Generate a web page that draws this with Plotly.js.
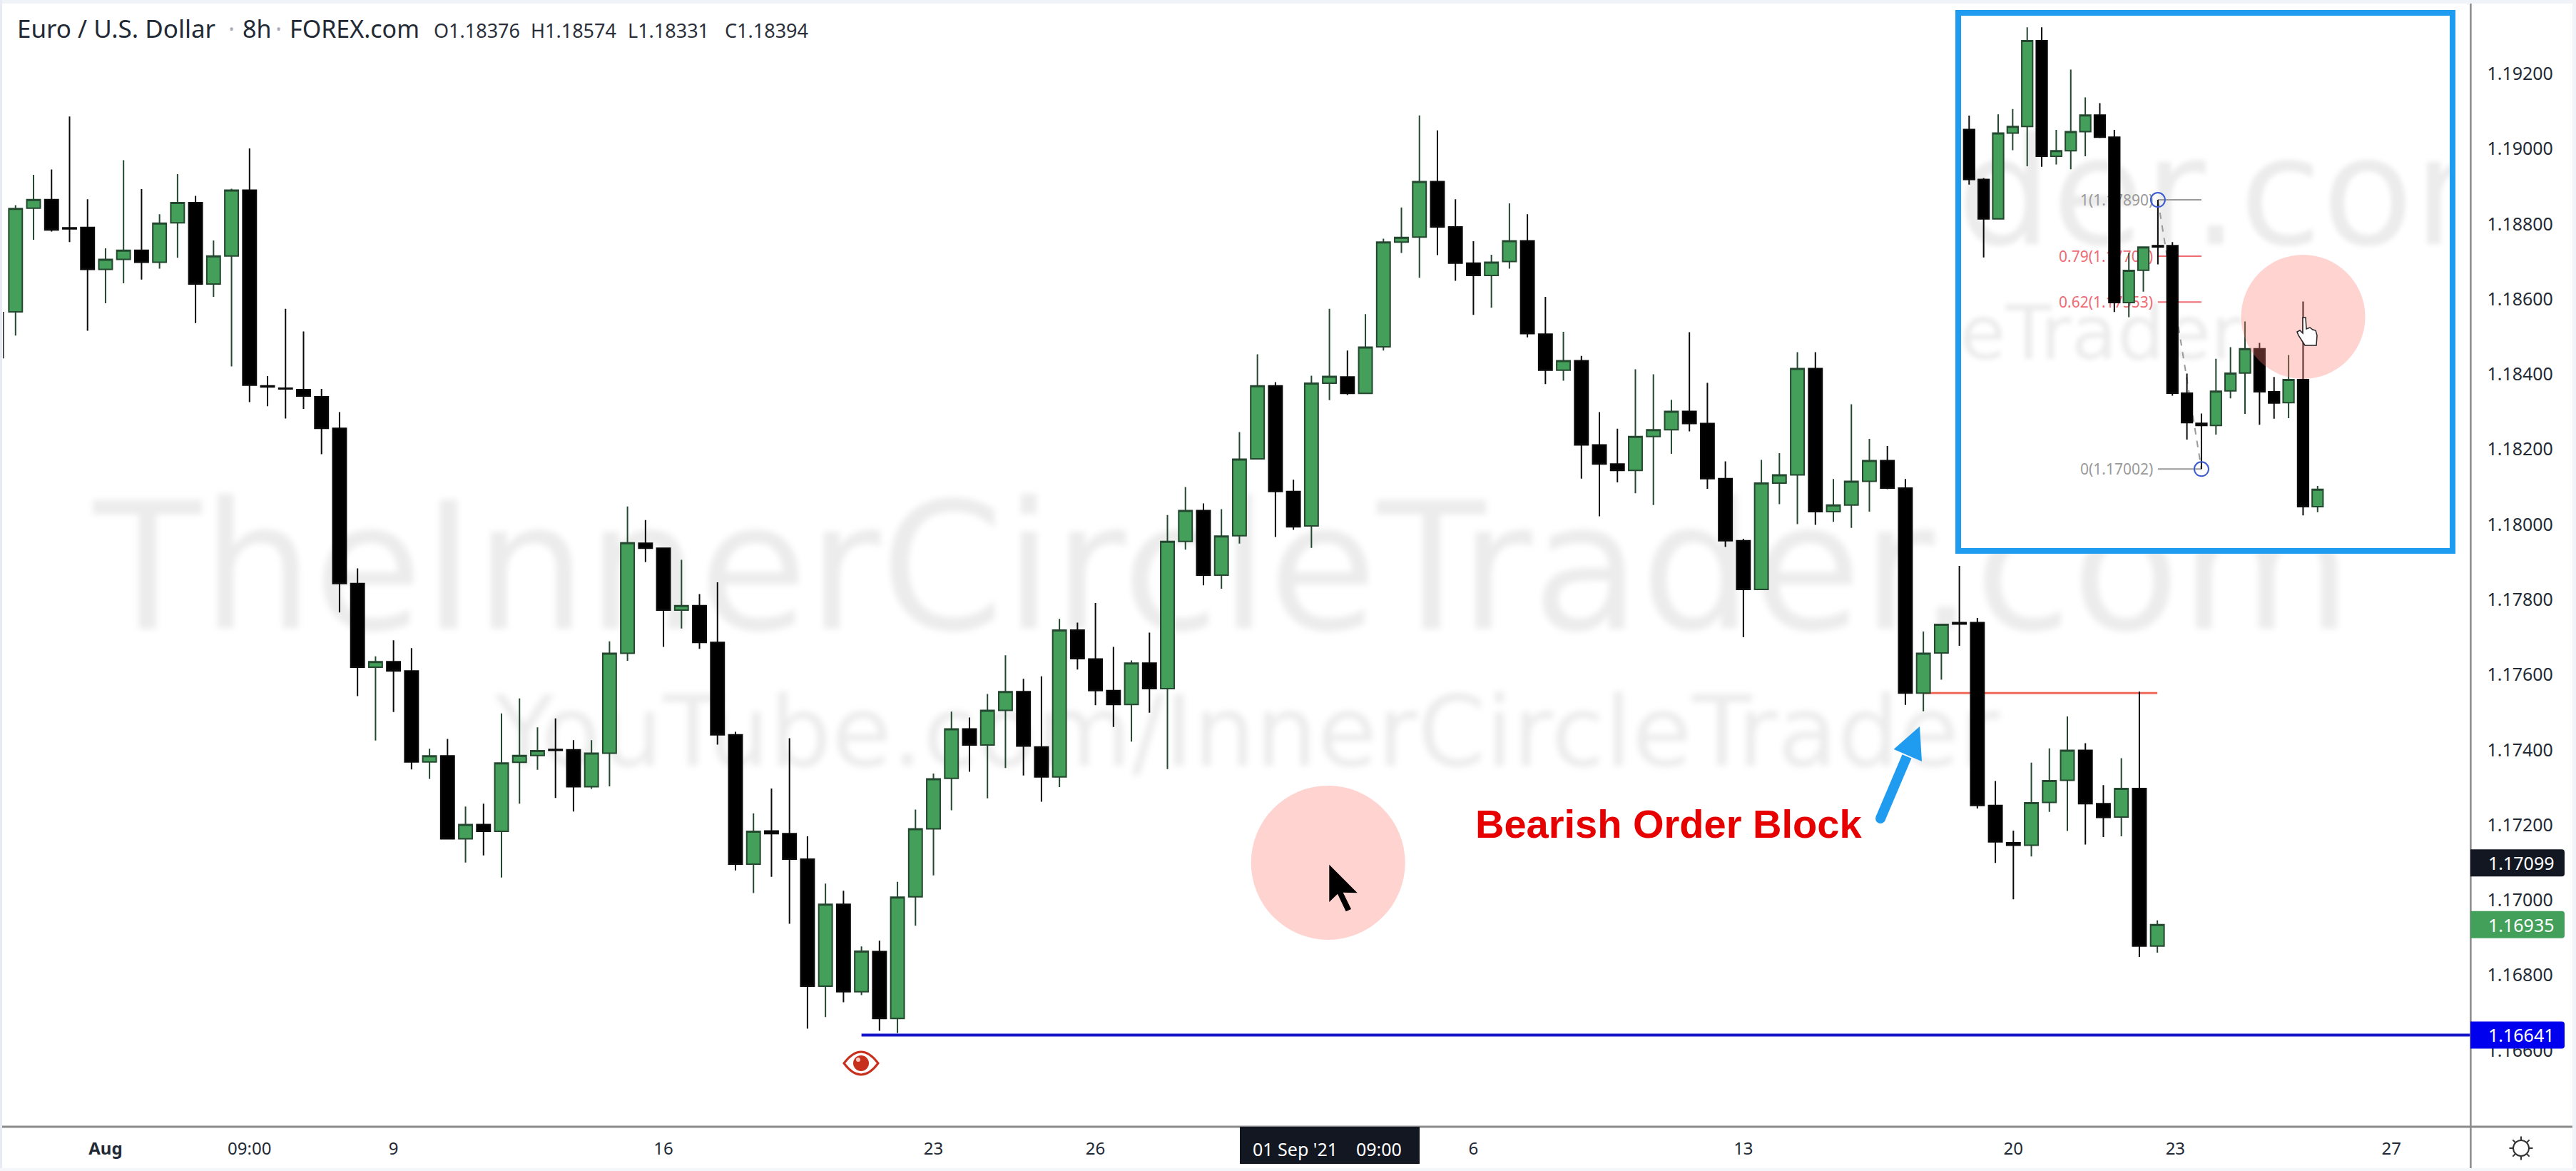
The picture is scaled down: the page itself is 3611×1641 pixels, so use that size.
<!DOCTYPE html>
<html>
<head>
<meta charset="utf-8">
<script src="https://cdn.plot.ly/plotly-3.0.1.min.js"></script>
<style>html,body{margin:0;padding:0;background:#fff;overflow:hidden}#chart{width:3611px;height:1641px}</style>
</head>
<body>
<div id="chart"></div>
<script>
const opens = [1.18566,1.18842,1.18865,1.18790,1.18791,1.18679,1.18706,1.18730,1.18698,1.18803,1.18857,1.18640,1.18715,1.18890,1.18369,1.18363,1.18359,1.18340,1.18256,1.17843,
1.17620,1.17635,1.17610,1.17368,1.17384,1.17163,1.17201,1.17183,1.17367,1.17385,1.17401,1.17400,1.17302,1.17391,1.17657,1.17950,1.17937,1.17772,1.17784,1.17686,
1.17440,1.17096,1.17184,1.17177,1.17109,1.16771,1.16989,1.16756,1.16863,1.16685,1.17009,1.17190,1.17324,1.17456,1.17413,1.17505,1.17555,1.17408,1.17328,1.17719,
1.17642,1.17558,1.17521,1.17631,1.17563,1.17955,1.18037,1.17865,1.17970,1.18175,1.18369,1.18088,1.17996,1.18376,1.18393,1.18349,1.18473,1.18752,1.18765,1.18913,
1.18792,1.18696,1.18663,1.18700,1.18755,1.18507,1.18411,1.18436,1.18212,1.18161,1.18144,1.18234,1.18252,1.18301,1.18269,1.18122,1.17957,1.17827,1.18110,1.18132,
1.18415,1.18034,1.18052,1.18115,1.18170,1.18097,1.17551,1.17658,1.17739,1.17739,1.17252,1.17153,1.17146,1.17260,1.17319,1.17399,1.17257,1.17221,1.17297,1.16878];
const highs = [1.18850,1.18931,1.18945,1.19086,1.18866,1.18735,1.18970,1.18893,1.18826,1.18933,1.18875,1.18756,1.18894,1.19001,1.18395,1.18574,1.18514,1.18361,1.18299,1.17883,
1.17649,1.17692,1.17671,1.17403,1.17429,1.17249,1.17257,1.17497,1.17537,1.17460,1.17484,1.17426,1.17426,1.17689,1.18048,1.18012,1.17937,1.17906,1.17815,1.17846,
1.17448,1.17231,1.17297,1.17431,1.17170,1.17044,1.17025,1.16877,1.16892,1.17049,1.17241,1.17337,1.17502,1.17486,1.17549,1.17652,1.17589,1.17596,1.17749,1.17739,
1.17791,1.17674,1.17638,1.17712,1.18025,1.18100,1.18056,1.18041,1.18246,1.18453,1.18379,1.18119,1.18396,1.18574,1.18463,1.18560,1.18761,1.18844,1.19089,1.19049,
1.18866,1.18754,1.18718,1.18855,1.18826,1.18606,1.18513,1.18449,1.18299,1.18255,1.18413,1.18400,1.18332,1.18512,1.18377,1.18168,1.17962,1.18172,1.18190,1.18459,
1.18459,1.18121,1.18320,1.18228,1.18209,1.18121,1.17715,1.17734,1.17890,1.17751,1.17317,1.17185,1.17366,1.17404,1.17489,1.17418,1.17306,1.17378,1.17555,1.16946];
const lows = [1.18503,1.18758,1.18780,1.18752,1.18516,1.18589,1.18642,1.18652,1.18681,1.18710,1.18536,1.18606,1.18421,1.18326,1.18315,1.18282,1.18308,1.18187,1.17766,1.17543,
1.17425,1.17501,1.17348,1.17323,1.17162,1.17100,1.17119,1.17060,1.17257,1.17347,1.17272,1.17236,1.17296,1.17303,1.17637,1.17900,1.17674,1.17723,1.17669,1.17414,
1.17079,1.17019,1.17062,1.16937,1.16658,1.16689,1.16728,1.16747,1.16652,1.16646,1.16932,1.17066,1.17239,1.17342,1.17271,1.17352,1.17332,1.17262,1.17301,1.17614,
1.17519,1.17461,1.17422,1.17499,1.17349,1.17933,1.17838,1.17829,1.17949,1.18175,1.17967,1.17986,1.17938,1.18331,1.18345,1.18349,1.18463,1.18723,1.18657,1.18717,
1.18649,1.18558,1.18577,1.18681,1.18498,1.18374,1.18383,1.18122,1.18022,1.18112,1.18083,1.18052,1.18188,1.18248,1.18095,1.17940,1.17700,1.17827,1.18054,1.18001,
1.17999,1.18007,1.17991,1.18034,1.18094,1.17520,1.17503,1.17587,1.17677,1.17244,1.17099,1.17002,1.17116,1.17235,1.17184,1.17148,1.17168,1.17170,1.16849,1.16860];
const closes = [1.18841,1.18865,1.18784,1.18787,1.18679,1.18706,1.18730,1.18698,1.18802,1.18857,1.18640,1.18715,1.18890,1.18371,1.18366,1.18361,1.18342,1.18256,1.17843,1.17620,
1.17635,1.17610,1.17368,1.17384,1.17163,1.17201,1.17183,1.17365,1.17385,1.17398,1.17399,1.17302,1.17391,1.17657,1.17951,1.17937,1.17772,1.17784,1.17686,1.17440,
1.17096,1.17183,1.17177,1.17109,1.16771,1.16989,1.16756,1.16864,1.16685,1.17008,1.17190,1.17323,1.17456,1.17413,1.17505,1.17555,1.17410,1.17328,1.17719,1.17643,
1.17558,1.17521,1.17631,1.17563,1.17955,1.18037,1.17865,1.17969,1.18174,1.18369,1.18088,1.17994,1.18376,1.18394,1.18349,1.18472,1.18752,1.18764,1.18913,1.18792,
1.18696,1.18663,1.18698,1.18755,1.18508,1.18411,1.18436,1.18212,1.18161,1.18144,1.18234,1.18252,1.18301,1.18269,1.18122,1.17957,1.17827,1.18110,1.18132,1.18415,
1.18034,1.18052,1.18115,1.18170,1.18097,1.17551,1.17657,1.17734,1.17735,1.17252,1.17155,1.17146,1.17259,1.17318,1.17399,1.17257,1.17220,1.17297,1.16878,1.16935];

const xTickIndex = [5,13,21,36,51,60,81,96,111,120,132];
const xTickLabels = ['<b>Aug</b>','09:00','9','16','23','26','6','13','20','23','27'];
const priceTicks = [1.166,1.168,1.170,1.172,1.174,1.176,1.178,1.180,1.182,1.184,1.186,1.188,1.190,1.192];
const priceTickLabels = ['1.16600','1.16800','1.17000','1.17200','1.17400','1.17600','1.17800','1.18000','1.18200','1.18400','1.18600','1.18800','1.19000','1.19200'];
const edgeWickY = [1.18566,1.18442];
const orderBlockPrice = 1.17551;
const sweepPrice = 1.16641;
const crosshairPrice = 1.17099;
const lastPrice = 1.16935;
const fibLevels = [{t:'1(1.17890)',p:1.17890,c:'#999999'},{t:'0.79(1.17704)',p:1.17704,c:'#ee6b73'},{t:'0.62(1.17553)',p:1.17553,c:'#ee6b73'},{t:'0(1.17002)',p:1.17002,c:'#999999'}];

const W = 3611, H = 1641;
const X = px => px / W;
const Y = py => 1 - py / H;
const poly = pts => 'M' + pts.map(p => X(p[0]) + ',' + Y(p[1])).join(' L') + ' Z';
const rectS = (x0,y0,x1,y1,fill,extra) => Object.assign({type:'rect',xref:'paper',yref:'paper',x0:X(x0),x1:X(x1),y0:Y(y0),y1:Y(y1),fillcolor:fill,line:{width:0}},extra||{});
const lineS = (x0,y0,x1,y1,color,w,extra) => Object.assign({type:'line',xref:'paper',yref:'paper',x0:X(x0),x1:X(x1),y0:Y(y0),y1:Y(y1),line:{color:color,width:w}},extra||{});
const circS = (cx,cy,r,fill,extra) => Object.assign({type:'circle',xref:'paper',yref:'paper',x0:X(cx-r),x1:X(cx+r),y0:Y(cy-r),y1:Y(cy+r),fillcolor:fill,line:{width:0}},extra||{});
const pathS = (d,fill,line,extra) => Object.assign({type:'path',xref:'paper',yref:'paper',path:d,fillcolor:fill,line:line||{width:0}},extra||{});
const labelS = (price,color) => ({type:'path',xref:'paper',yref:'y',xsizemode:'pixel',ysizemode:'pixel',xanchor:X(3463),yanchor:price,
  path:'M0,-19 H128 Q132,-19 132,-15 V15 Q132,19 128,19 H0 Z',fillcolor:color,line:{width:0},layer:'above'});

const index = opens.map((_,i)=>i);
const insetStart = 95;
const green = '#439f59', greenLine = '#24482f';
const candleStyle = {
  increasing:{fillcolor:green,line:{color:greenLine,width:2}},
  decreasing:{fillcolor:'#000000',line:{color:'#0a0a0a',width:2}},
  whiskerwidth:0, hoverinfo:'none', showlegend:false
};
const traces = [
  Object.assign({type:'candlestick',x:index,open:opens,high:highs,low:lows,close:closes,xaxis:'x',yaxis:'y'},candleStyle),
  {type:'scatter',mode:'lines',x:[-0.68,-0.68],y:edgeWickY,line:{color:'#333',width:2},xaxis:'x',yaxis:'y',showlegend:false,hoverinfo:'none'},
  Object.assign({type:'candlestick',x:index.slice(insetStart),open:opens.slice(insetStart),high:highs.slice(insetStart),low:lows.slice(insetStart),close:closes.slice(insetStart),xaxis:'x2',yaxis:'y2'},candleStyle),
  {type:'scatter',mode:'markers',x:[108,111],y:[1.17890,1.17002],xaxis:'x2',yaxis:'y2',showlegend:false,hoverinfo:'none',
   marker:{symbol:'circle-open',size:20,color:'#3a5bd0',line:{color:'#3a5bd0',width:2}}}
];

const wmColor = 'rgba(0,0,0,0.075)';
const ann = (text,px,py,size,color,o) => Object.assign({text:text,xref:'paper',yref:'paper',x:X(px),y:Y(py),xanchor:'left',yanchor:'middle',showarrow:false,font:{family:'Noto Sans',size:size,color:color}},o||{});
const dj = 'DejaVu Sans';
const annotations = [
  // 0,1 main watermark (moved under everything after drawing)
  ann('TheInnerCircleTrader.com',128,795,248,wmColor,{font:{family:dj,size:248,color:wmColor}}),
  ann('YouTube.com/InnerCircleTrader',690,1025,137,wmColor,{font:{family:dj,size:137,color:wmColor}}),
  // 2,3 inset watermark
  ann('der.com',2741,270,210,wmColor,{font:{family:dj,size:210,color:wmColor}}),
  ann('eTrader',2745,467,105,wmColor,{font:{family:dj,size:105,color:wmColor}}),
];
fibLevels.forEach(f=>annotations.push({text:f.t,xref:'x2',yref:'y2',x:107.75,y:f.p,xanchor:'right',yanchor:'middle',showarrow:false,font:{family:'Noto Sans',size:21,color:f.c}}));
const underCount = annotations.length;
annotations.push(
  ann('Euro / U.S. Dollar',22,40,35,'#222a35'),
  ann('·',318,40,34,'#aab'),
  ann('8h',338,40,34,'#222a35'),
  ann('·',384,40,34,'#aab'),
  ann('FOREX.com',404,40,34,'#222a35'),
  ann('O1.18376',606,42,27,'#2b2f3a'),
  ann('H1.18574',742,42,27,'#2b2f3a'),
  ann('L1.18331',878,42,27,'#2b2f3a'),
  ann('C1.18394',1014,42,27,'#2b2f3a'),
  ann('Bearish Order Block',2066,1154,56,'#e60000',{font:{family:'Liberation Sans',size:56,color:'#e60000',weight:700}}),
  ann("01 Sep '21",1754,1610,25,'#ffffff'),
  ann('09:00',1899,1610,25,'#ffffff'),
  {text:'1.17099',xref:'paper',yref:'y',x:X(3486),y:crosshairPrice,xanchor:'left',yanchor:'middle',showarrow:false,font:{family:'Noto Sans',size:25,color:'#fff'}},
  {text:'1.16935',xref:'paper',yref:'y',x:X(3486),y:lastPrice,xanchor:'left',yanchor:'middle',showarrow:false,font:{family:'Noto Sans',size:25,color:'#fff'}},
  {text:'1.16641',xref:'paper',yref:'y',x:X(3486),y:sweepPrice,xanchor:'left',yanchor:'middle',showarrow:false,font:{family:'Noto Sans',size:25,color:'#fff'}}
);

const sunRays = [];
for(let k=0;k<8;k++){const a=k*Math.PI/4;sunRays.push('M'+X(3534+11*Math.cos(a))+','+Y(1609+11*Math.sin(a))+' L'+X(3534+16.5*Math.cos(a))+','+Y(1609+16.5*Math.sin(a)));}

const sweepY = Y(735+(1.18-sweepPrice)*52640);
const shapes = [
  // inset panel
  rectS(2745,18,3438,772,'#ffffff',{line:{color:'#1f9bf0',width:8},layer:'below'}),
  // fib tool (behind the inset candles)
  ...fibLevels.map(f=>({type:'line',xref:'x2',yref:'y2',x0:108,x1:111,y0:f.p,y1:f.p,line:{color:f.c,width:2},layer:'below'})),
  {type:'line',xref:'x2',yref:'y2',x0:108,x1:111,y0:1.17890,y1:1.17002,line:{color:'#999',width:2,dash:'dash'},layer:'below'},
  // order block and swept low
  {type:'line',xref:'x',yref:'y',x0:106,x1:119,y0:orderBlockPrice,y1:orderBlockPrice,line:{color:'#f0695a',width:3},layer:'below'},
  {type:'line',xref:'x',yref:'paper',x0:47,x1:136.41,y0:sweepY,y1:sweepY,line:{color:'#1414c8',width:4}},
  // frame
  rectS(0,0,W,5,'#f0f3f8'), rectS(0,0,3,H,'#e8ebf3'), rectS(3606,0,W,H,'#f0f3f8'), rectS(0,1637,W,H,'#f4f6f9'),
  lineS(3463.4,5,3463.4,1637,'#8a8a8a',2.5), lineS(3,1579,3606,1579,'#8a8a8a',3),
  // pink cursor halos
  circS(1861.7,1209,108,'rgba(255,120,110,0.33)'),
  circS(3228.5,444,87,'rgba(255,120,110,0.33)'),
  // arrow cursor
  pathS(poly([[1863.3,1211.7],[1863.3,1264],[1875,1252.7],[1886.7,1277.3],[1894,1274],[1882.7,1250.7],[1902.7,1251.3]]),'#000000'),
  // hand cursor
  pathS(poly([[3228,445],[3232,445],[3233,461],[3238,459],[3242,462],[3246,463],[3248,470],[3247,484],[3231,484],[3222,470],[3220,465],[3224,463],[3228,467]]),'#ffffff',{color:'#222',width:1.5}),
  // blue arrow
  lineS(2636,1147,2673,1060,'#1f9bf0',14),
  circS(2636,1147,7,'#1f9bf0'),
  pathS(poly([[2691,1018],[2654.6,1050],[2694,1067]]),'#1f9bf0'),
  // eye marker
  pathS('M'+X(1183)+','+Y(1490)+' Q'+X(1207)+','+Y(1458)+' '+X(1231)+','+Y(1490)+' Q'+X(1207)+','+Y(1522)+' '+X(1183)+','+Y(1490)+' Z','#ffffff',{color:'#c8301e',width:3}),
  circS(1207,1490,11,'#c8301e'),
  circS(1203,1485,3,'#ffc8c0'),
  // crosshair date chip
  rectS(1738,1579,1990,1631,'#131722'),
  // price chips
  labelS(crosshairPrice,'#131722'), labelS(lastPrice,'#43a05a'), labelS(sweepPrice,'#0000ee'),
  // settings icon
  {type:'circle',xref:'paper',yref:'paper',x0:X(3523),x1:X(3545),y0:Y(1620),y1:Y(1598),line:{color:'#333',width:2},fillcolor:'rgba(0,0,0,0)'},
  pathS(sunRays.join(' '),'rgba(0,0,0,0)',{color:'#333',width:2})
];

const layout = {
  width:W,height:H,margin:{l:0,r:0,t:0,b:0,pad:0},
  paper_bgcolor:'#ffffff',plot_bgcolor:'rgba(0,0,0,0)',
  font:{family:'Noto Sans',color:'#1b1f2a'},
  boxgap:0.25,boxgroupgap:0,showlegend:false,hovermode:false,dragmode:false,
  xaxis:{domain:[X(4),X(3463.4)],range:[-0.7055,136.41],anchor:'y',rangeslider:{visible:false},showgrid:false,zeroline:false,showline:false,
    tickmode:'array',tickvals:xTickIndex,ticktext:xTickLabels,ticks:'',ticklabelstandoff:14,tickfont:{family:'Noto Sans',size:24,color:'#222a35'}},
  yaxis:{domain:[Y(1579),Y(5)],range:[1.163967,1.193868],anchor:'x',side:'right',showgrid:false,zeroline:false,showline:false,
    tickmode:'array',tickvals:priceTicks,ticktext:priceTickLabels,ticks:'',ticklabelstandoff:22,tickfont:{family:'Noto Sans',size:25,color:'#222a35'}},
  xaxis2:{domain:[X(2749),X(3434)],range:[94.445,128.1],anchor:'y2',visible:false,rangeslider:{visible:false}},
  yaxis2:{domain:[Y(768),Y(22)],range:[1.167415,1.184975],anchor:'x2',visible:false},
  shapes:shapes,annotations:annotations
};

const gd = document.getElementById('chart');
Plotly.newPlot(gd,traces,layout,{displayModeBar:false,staticPlot:true}).then(function(){
  const below = gd.querySelector('.layer-below');
  const paper = below.parentNode;
  const cart = paper.querySelector('.cartesianlayer');
  const NS = 'http://www.w3.org/2000/svg';
  const node = i => gd.querySelector('.annotation[data-index="'+i+'"]');
  [0,1].forEach(i=>{const n=node(i); if(n){n.style.filter='blur(4px)'; paper.insertBefore(n,below);}});
  const g = document.createElementNS(NS,'g');
  const cp = document.createElementNS(NS,'clipPath'); cp.setAttribute('id','insetClip');
  const r = document.createElementNS(NS,'rect');
  r.setAttribute('x',2749);r.setAttribute('y',22);r.setAttribute('width',685);r.setAttribute('height',746);
  cp.appendChild(r); g.appendChild(cp); g.setAttribute('clip-path','url(#insetClip)');
  paper.insertBefore(g,cart);
  [2,3].forEach(i=>{const n=node(i); if(n){n.style.filter='blur(3px)'; g.appendChild(n);}});
  for(let i=4;i<underCount;i++){const n=node(i); if(n) paper.insertBefore(n,cart);}
});
</script>
</body>
</html>
